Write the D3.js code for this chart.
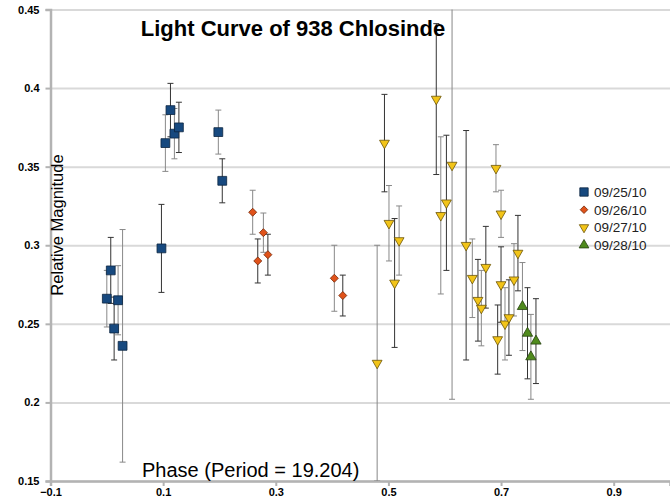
<!DOCTYPE html>
<html>
<head>
<meta charset="utf-8">
<script src="https://cdn.jsdelivr.net/npm/d3@7"></script>
<style>
  body { margin: 0; background: #fff; }
  svg { display: block; font-family: 'Liberation Sans', Arial, sans-serif; }
</style>
</head>
<body>
<svg id="chart"></svg>
<script>
const seriesNames = ['09/25/10', '09/26/10', '09/27/10', '09/28/10']

const phase0925 = [0.000, 0.007, 0.020, 0.013, 0.028, 0.097, 0.104, 0.113, 0.120, 0.128, 0.198, 0.205]
const mag0925 = [0.266, 0.284, 0.265, 0.247, 0.236, 0.298, 0.365, 0.386, 0.371, 0.375, 0.372, 0.341]
const err0925 = [0.018, 0.021, 0.022, 0.020, 0.074, 0.028, 0.018, 0.017, 0.016, 0.016, 0.014, 0.014]

const phase0926 = [0.259, 0.268, 0.278, 0.286, 0.404, 0.419]
const mag0926 = [0.321, 0.290, 0.308, 0.294, 0.279, 0.268]
const err0926 = [0.014, 0.014, 0.0125, 0.013, 0.021, 0.013]

const phase0927 = [0.480, 0.493, 0.501, 0.511, 0.519, 0.585, 0.593, 0.603, 0.613, 0.638, 0.649,
  0.659, 0.665, 0.673, 0.691, 0.694, 0.700, 0.700, 0.707, 0.714, 0.723, 0.730]
const mag0927 = [0.225, 0.365, 0.314, 0.276, 0.303, 0.393, 0.319, 0.327, 0.351, 0.300, 0.279,
  0.265, 0.260, 0.286, 0.349, 0.240, 0.320, 0.275, 0.250, 0.254, 0.278, 0.295]
const err0927 = [0.075, 0.031, 0.024, 0.041, 0.022, 0.048, 0.050, 0.043, 0.149, 0.073, 0.025,
  0.026, 0.024, 0.026, 0.015, 0.022, 0.015, 0.024, 0.023, 0.024, 0.023, 0.024]

const phase0928 = [0.738, 0.747, 0.753, 0.762]
const mag0928 = [0.261, 0.244, 0.229, 0.239]
const err0928 = [0.028, 0.029, 0.027, 0.027]

const xTicks = [-0.1, 0.1, 0.3, 0.5, 0.7, 0.9]
const yTicks = [0.15, 0.2, 0.25, 0.3, 0.35, 0.4, 0.45]

const canvasSize = { width: 670, height: 502 }
const margin = { top: 9.5, bottom: 21, right: 0, left: 50.5 }
const chartSize = {
  width: canvasSize.width - margin.left - margin.right,
  height: canvasSize.height - margin.top - margin.bottom,
}

// marker styles per night
const styles = [
  { fill: '#17497f', stroke: '#0b2440', type: d3.symbolSquare, size: 78, rotate: 0 },
  { fill: '#e0521a', stroke: '#7a2a0a', type: d3.symbolSquare, size: 32, rotate: 45 },
  { fill: '#f2c418', stroke: '#6b5408', type: d3.symbolTriangle, size: 42, rotate: 180 },
  { fill: '#4f8a1c', stroke: '#24400c', type: d3.symbolTriangle, size: 46, rotate: 0 },
]

const build = (p, m, e) => p.map((d, i) => ({ phase: d, mag: m[i], err: e[i] }))
const series = [
  build(phase0925, mag0925, err0925),
  build(phase0926, mag0926, err0926),
  build(phase0927, mag0927, err0927),
  build(phase0928, mag0928, err0928),
]

const svg = d3.select('#chart')
  .attr('width', canvasSize.width)
  .attr('height', canvasSize.height)

const g = svg.append('g')
  .attr('transform', `translate(${margin.left}, ${margin.top})`)

const x = d3.scaleLinear().domain([-0.1, 1.0]).range([0, chartSize.width])
const y = d3.scaleLinear().domain([0.15, 0.45]).range([chartSize.height, 0])

g.append('defs').append('clipPath').attr('id', 'plot-clip')
  .append('rect')
  .attr('width', chartSize.width)
  .attr('height', chartSize.height)

// horizontal grid
g.append('g')
  .attr('class', 'grid')
  .call(d3.axisLeft(y).tickValues(yTicks).tickSize(-chartSize.width).tickFormat(''))
  .call((s) => s.select('.domain').remove())
  .call((s) => s.selectAll('line').attr('stroke', '#d9d9d9').attr('stroke-width', 2))

// axes
const yAxis = g.append('g')
  .call(d3.axisLeft(y).tickValues(yTicks).tickSize(5).tickPadding(6).tickFormat((d) => d3.format('')(+d.toFixed(2))))
const xAxis = g.append('g')
  .attr('transform', `translate(0, ${chartSize.height})`)
  .call(d3.axisBottom(x).tickValues(xTicks).tickSize(5).tickPadding(2).tickFormat((d) => d3.format('')(+d.toFixed(1))))

;[xAxis, yAxis].forEach((a) => {
  a.select('.domain').attr('stroke', '#b3b3b3').attr('stroke-width', 2.5)
  a.selectAll('.tick line').attr('stroke', '#b3b3b3').attr('stroke-width', 2)
  a.selectAll('.tick text')
    .attr('fill', '#000')
    .style('font-size', '11px')
    .style('font-weight', 'bold')
    .style('font-family', "'Liberation Sans', Arial, sans-serif")
})

// error bars
const plot = g.append('g').attr('clip-path', 'url(#plot-clip)')
series.forEach((data, si) => {
  const bars = plot.append('g')
    .selectAll('.err')
    .data(data)
    .enter()
    .append('g')
    .attr('class', 'err')
    .attr('stroke', (d, i) => (i % 2 ? '#333' : '#888'))
    .attr('stroke-width', 1)
  bars.append('line')
    .attr('x1', (d) => x(d.phase))
    .attr('x2', (d) => x(d.phase))
    .attr('y1', (d) => y(d.mag + d.err))
    .attr('y2', (d) => y(d.mag - d.err))
  bars.append('line')
    .attr('x1', (d) => x(d.phase) - 3)
    .attr('x2', (d) => x(d.phase) + 3)
    .attr('y1', (d) => y(d.mag + d.err))
    .attr('y2', (d) => y(d.mag + d.err))
  bars.append('line')
    .attr('x1', (d) => x(d.phase) - 3)
    .attr('x2', (d) => x(d.phase) + 3)
    .attr('y1', (d) => y(d.mag - d.err))
    .attr('y2', (d) => y(d.mag - d.err))
})

// markers
series.forEach((data, si) => {
  const st = styles[si]
  plot.append('g')
    .selectAll('path')
    .data(data)
    .enter()
    .append('path')
    .attr('d', d3.symbol().type(st.type).size(st.size))
    .attr('transform', (d) => `translate(${x(d.phase)}, ${y(d.mag)}) rotate(${st.rotate})`)
    .attr('fill', st.fill)
    .attr('stroke', st.stroke)
    .attr('stroke-width', 0.8)
})

// titles
svg.append('text')
  .attr('x', 293)
  .attr('y', 36)
  .attr('text-anchor', 'middle')
  .style('font-size', '22px')
  .style('font-weight', 'bold')
  .text('Light Curve of 938 Chlosinde')

svg.append('text')
  .attr('x', 142)
  .attr('y', 477)
  .style('font-size', '20px')
  .text('Phase (Period = 19.204)')

svg.append('text')
  .attr('text-anchor', 'middle')
  .attr('transform', 'translate(63, 225) rotate(-90)')
  .style('font-size', '16.5px')
  .text('Relative Magnitude')

// legend
const legend = svg.append('g').attr('transform', 'translate(584, 192)')
seriesNames.forEach((name, i) => {
  const st = styles[i]
  const row = legend.append('g').attr('transform', `translate(0, ${i * 17.7})`)
  row.append('path')
    .attr('d', d3.symbol().type(st.type).size(st.size * 0.9))
    .attr('transform', `rotate(${st.rotate})`)
    .attr('fill', st.fill)
    .attr('stroke', st.stroke)
    .attr('stroke-width', 0.8)
  row.append('text')
    .attr('x', 10)
    .attr('y', 5)
    .style('font-size', '13.5px')
    .attr('fill', '#222')
    .text(name)
})
</script>
</body>
</html>
